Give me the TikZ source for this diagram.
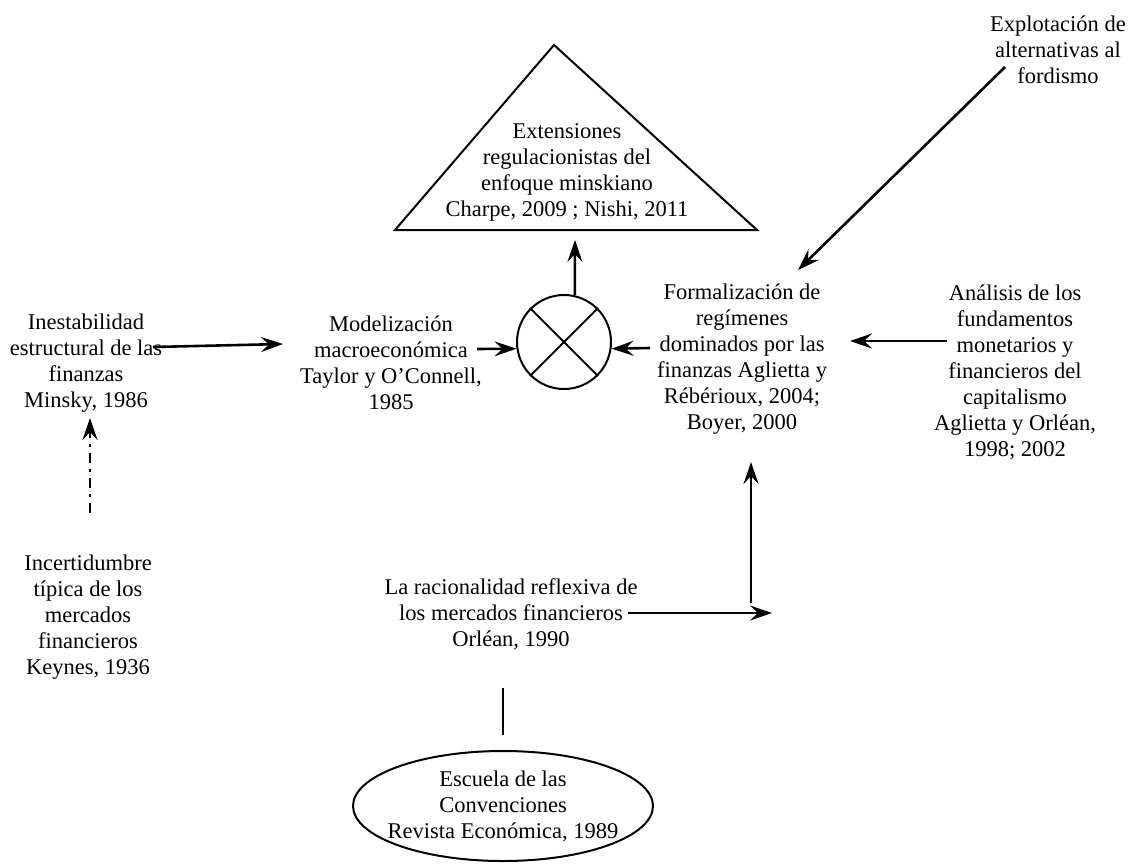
\documentclass[tikz,border=0pt]{standalone}
\usepackage{fontspec}
\setmainfont{Liberation Serif}
\usetikzlibrary{arrows.meta,shapes.geometric}
\begin{document}
\begin{tikzpicture}[x=1pt,y=-1pt,
  txt/.style={align=center,inner sep=0pt,font=\fontsize{22.5}{26}\selectfont},
  arr/.style={line width=2.6pt,-{Stealth[length=22pt,width=15pt,inset=8pt]}},
  shp/.style={draw,line width=2pt}]
\useasboundingbox (0,0) rectangle (1131,867);
% shapes
\coordinate (tA) at (554,45);
\coordinate (tR) at (757,230);
\coordinate (tL) at (395,230);
\draw[shp,line join=miter] (tA) -- (tR) -- (tL) -- cycle;
\node[circle,shp,minimum size=94pt,inner sep=0pt] (mix) at (564,342) {};
\draw[line width=2pt] (mix.north west) -- (mix.south east);
\draw[line width=2pt] (mix.north east) -- (mix.south west);
\node[ellipse,shp,minimum width=300pt,minimum height=110pt,inner sep=0pt] (escshape) at (503,806) {};
% texts
\node[txt] (inest) at (86,363) {Inestabilidad\\estructural de las\\finanzas\\Minsky, 1986};
\node[txt] (model) at (391,363) {Modelización\\macroeconómica\\Taylor y O’Connell,\\1985};
\node[txt] (ext) at (567,172) {Extensiones\\regulacionistas del\\enfoque minskiano\\Charpe, 2009 ; Nishi, 2011};
\node[txt] (form) at (742,359) {Formalización de\\regímenes\\dominados por las\\finanzas Aglietta y\\Rébérioux, 2004;\\Boyer, 2000};
\node[txt] (anal) at (1015,372) {Análisis de los\\fundamentos\\monetarios y\\financieros del\\capitalismo\\Aglietta y Orléan,\\1998; 2002};
\node[txt] (expl) at (1058,50) {Explotación de\\alternativas al\\fordismo};
\node[txt] (incert) at (88,617) {Incertidumbre\\típica de los\\mercados\\financieros\\Keynes, 1936};
\node[txt] (orl) at (511,614) {La racionalidad reflexiva de\\los mercados financieros\\Orléan, 1990};
\node[txt] (esc) at (503,806) {Escuela de las\\Convenciones\\Revista Económica, 1989};
% connector end points
\coordinate (a1s) at (153,347);
\coordinate (a1e) at (283,344);
\coordinate (a2s) at (477,349);
\coordinate (a3s) at (650,348);
\coordinate (a4e) at (575,240);
\coordinate (a5s) at (947,341);
\coordinate (a5e) at (850,341);
\coordinate (a6s) at (1005,67);
\coordinate (a6e) at (798,270);
\coordinate (a7s) at (628,613);
\coordinate (a7e) at (772,613);
\coordinate (a8s) at (751,603);
\coordinate (a8e) at (751,462);
\coordinate (a9s) at (90,513);
\coordinate (a9e) at (90,418);
\coordinate (a10s) at (503,688);
\coordinate (a10e) at (503,735);
% connectors
\draw[arr] (a1s) -- (a1e);
\draw[arr] (a2s) -- (mix.188);
\draw[arr] (a3s) -- (mix.-8);
\draw[arr] (mix.77) -- (a4e);
\draw[arr] (a5s) -- (a5e);
\draw[arr] (a6s) -- (a6e);
\draw[arr] (a7s) -- (a7e);
\draw[arr] (a8s) -- (a8e);
\draw[arr,dash pattern=on 10pt off 6pt on 3pt off 6pt] (a9s) -- (a9e);
\draw[line width=2pt] (a10s) -- (a10e);
\end{tikzpicture}
\end{document}
